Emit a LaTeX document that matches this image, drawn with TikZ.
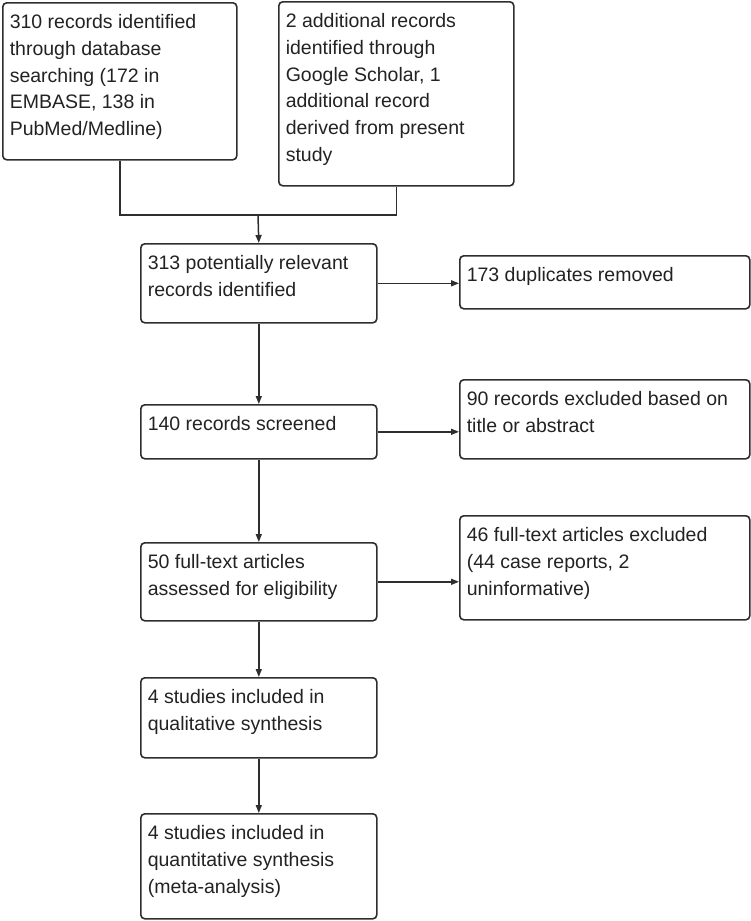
\documentclass[tikz,border=0pt]{standalone}
\usepackage{fontspec}
\setmainfont{Liberation Sans}
\usepackage{tikz}
\usepackage{xcolor}
\usetikzlibrary{arrows.meta,positioning,calc}
\definecolor{ink}{HTML}{222222}
\definecolor{rule}{HTML}{2E2E2E}
\newcommand{\boxtext}[3]{\parbox[c][#2][t]{#1}{\raggedright\rule{0pt}{26pt}#3}}
\tikzset{
  flowbox/.style={
    draw=rule, line width=1.6pt, rounded corners=4pt,
    anchor=north west, inner xsep=7pt, inner ysep=0pt,
    align=left, text=ink, font=\fontsize{19.5}{26.7}\selectfont
  },
  flowline/.style={draw=rule, line width=1.5pt},
  flowarrow/.style={flowline, -{Triangle[length=8pt,width=6pt]}}
}

\begin{document}
\begin{tikzpicture}[x=1pt,y=-1pt]
  \useasboundingbox (0,0) rectangle (751,921);
  % identification
  \node[flowbox] (records) at (2,2)
    {\boxtext{220pt}{157pt}{310 records identified\\through database\\searching (172 in\\EMBASE, 138 in\\PubMed/Medline)}};
  \node[flowbox] (extra) at (278,1)
    {\boxtext{221pt}{184pt}{2 additional records\\identified through\\Google Scholar, 1\\additional record\\derived from present\\study}};
  % main column
  \node[flowbox] (pooled) at (140,243)
    {\boxtext{222pt}{79pt}{313 potentially relevant\\records identified}};
  \node[flowbox] (screened) at (140,404)
    {\boxtext{222pt}{54pt}{140 records screened}};
  \node[flowbox] (fulltext) at (140,542)
    {\boxtext{222pt}{78pt}{50 full-text articles\\assessed for eligibility}};
  \node[flowbox] (quali) at (140,677)
    {\boxtext{222pt}{80pt}{4 studies included in\\qualitative synthesis}};
  \node[flowbox] (quanti) at (140,813)
    {\boxtext{222pt}{105pt}{4 studies included in\\quantitative synthesis\\(meta-analysis)}};
  % exclusions
  \node[flowbox] (dupes) at (459,255)
    {\boxtext{276pt}{53pt}{173 duplicates removed}};
  \node[flowbox] (titleout) at (459,379)
    {\boxtext{276pt}{79pt}{90 records excluded based on\\title or abstract}};
  \node[flowbox] (ftout) at (459,515)
    {\boxtext{276pt}{104pt}{46 full-text articles excluded\\(44 case reports, 2\\uninformative)}};
  % connectors
  \coordinate (join) at (258,215);
  \draw[flowline] (records.south) |- (join);
  \draw[flowline] (extra.south) |- (join);
  \draw[flowarrow] (join) -- (pooled.north);
  \foreach \a/\b in {pooled/screened, screened/fulltext, fulltext/quali, quali/quanti}
    \draw[flowarrow] (\a.south) -- (\b.north);
  \foreach \a/\b in {pooled/dupes, screened/titleout, fulltext/ftout}
    \draw[flowarrow] (\a.east) -- (\a.east -| \b.west);
\end{tikzpicture}
\end{document}
